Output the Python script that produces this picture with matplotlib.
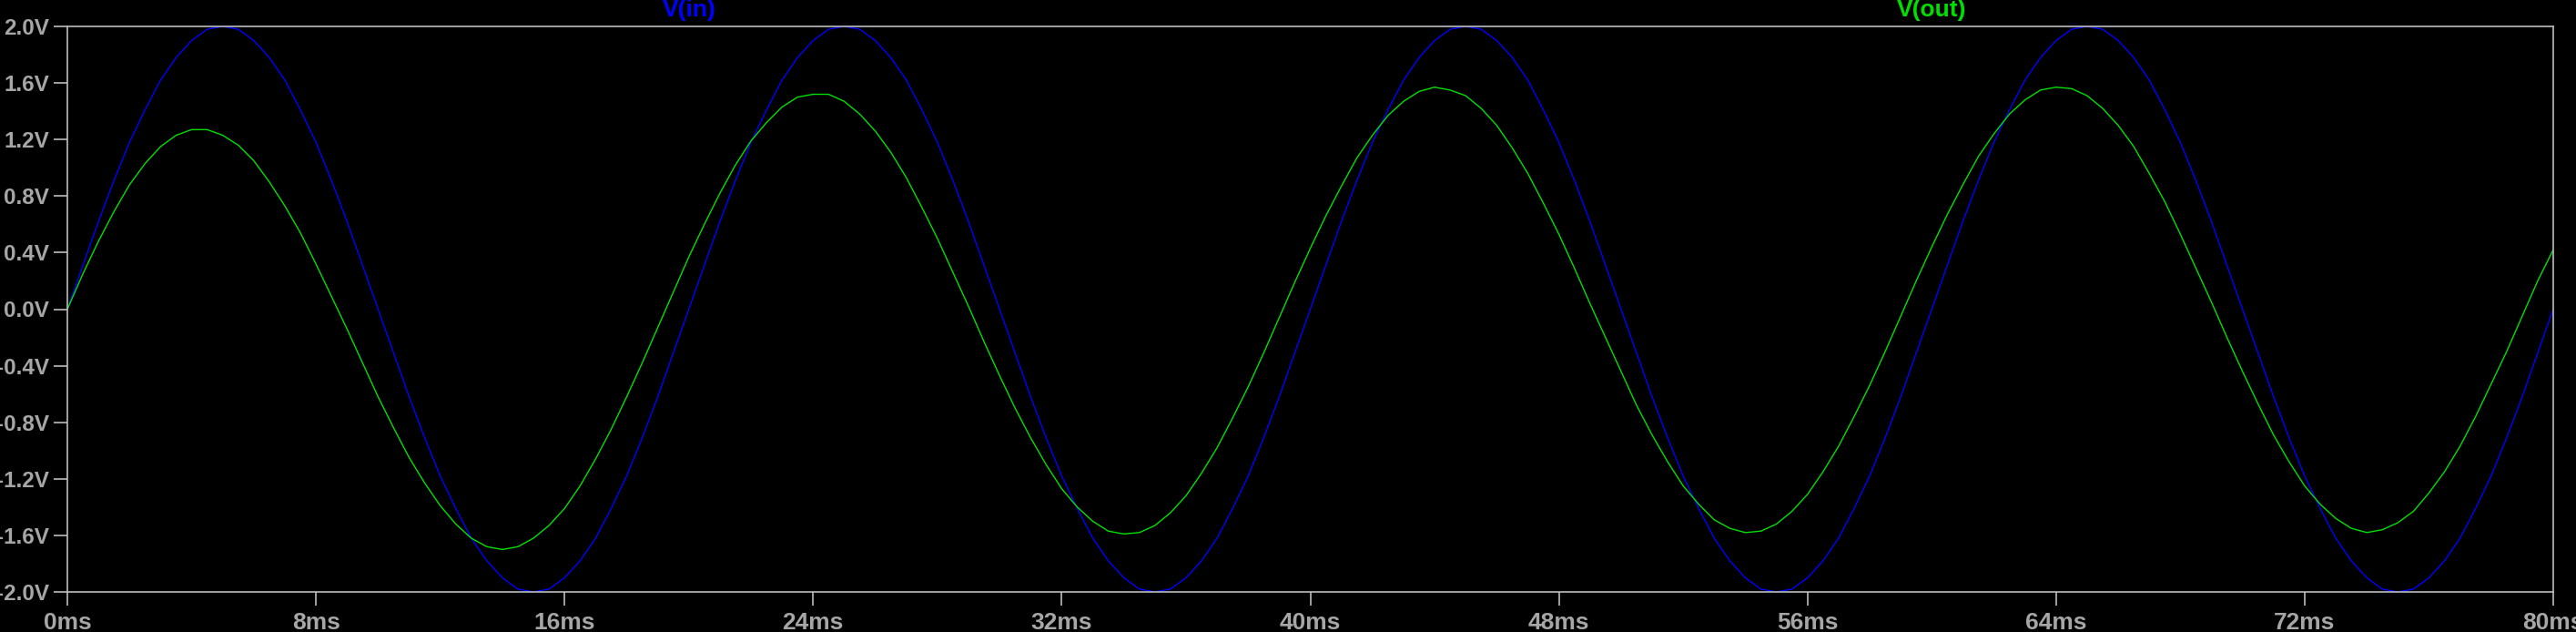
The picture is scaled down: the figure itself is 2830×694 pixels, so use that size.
import matplotlib.pyplot as plt
import numpy as np

# time axis, 0.5 ms steps from 0 to 80 ms
t_ms = np.arange(161) * 0.5

# V(in) (volts)
v_in = [
    0.00, 0.31, 0.62, 0.91, 1.18, 1.41, 1.62, 1.78, 1.90, 1.98, 2.00, 1.98, 1.90, 1.78, 1.62, 1.41, 1.18, 0.91, 0.62, 0.31,
    0.00, -0.31, -0.62, -0.91, -1.18, -1.41, -1.62, -1.78, -1.90, -1.98, -2.00, -1.98, -1.90, -1.78, -1.62, -1.41, -1.18, -0.91, -0.62, -0.31,
    0.00, 0.31, 0.62, 0.91, 1.18, 1.41, 1.62, 1.78, 1.90, 1.98, 2.00, 1.98, 1.90, 1.78, 1.62, 1.41, 1.18, 0.91, 0.62, 0.31,
    0.00, -0.31, -0.62, -0.91, -1.18, -1.41, -1.62, -1.78, -1.90, -1.98, -2.00, -1.98, -1.90, -1.78, -1.62, -1.41, -1.18, -0.91, -0.62, -0.31,
    0.00, 0.31, 0.62, 0.91, 1.18, 1.41, 1.62, 1.78, 1.90, 1.98, 2.00, 1.98, 1.90, 1.78, 1.62, 1.41, 1.18, 0.91, 0.62, 0.31,
    0.00, -0.31, -0.62, -0.91, -1.18, -1.41, -1.62, -1.78, -1.90, -1.98, -2.00, -1.98, -1.90, -1.78, -1.62, -1.41, -1.18, -0.91, -0.62, -0.31,
    0.00, 0.31, 0.62, 0.91, 1.18, 1.41, 1.62, 1.78, 1.90, 1.98, 2.00, 1.98, 1.90, 1.78, 1.62, 1.41, 1.18, 0.91, 0.62, 0.31,
    0.00, -0.31, -0.62, -0.91, -1.18, -1.41, -1.62, -1.78, -1.90, -1.98, -2.00, -1.98, -1.90, -1.78, -1.62, -1.41, -1.18, -0.91, -0.62, -0.31,
    0.00,
]

# V(out) (volts)
v_out = [
    0.00, 0.25, 0.48, 0.69, 0.88, 1.03, 1.15, 1.23, 1.27, 1.27, 1.23, 1.16, 1.05, 0.90, 0.73, 0.54, 0.32, 0.09, -0.14, -0.38,
    -0.62, -0.84, -1.05, -1.23, -1.39, -1.52, -1.62, -1.68, -1.70, -1.68, -1.62, -1.53, -1.41, -1.25, -1.06, -0.85, -0.62, -0.38, -0.13, 0.12,
    0.37, 0.60, 0.82, 1.02, 1.19, 1.32, 1.43, 1.50, 1.52, 1.52, 1.47, 1.38, 1.26, 1.11, 0.93, 0.72, 0.50, 0.26, 0.02, -0.23,
    -0.47, -0.70, -0.91, -1.10, -1.27, -1.40, -1.50, -1.57, -1.59, -1.58, -1.53, -1.44, -1.32, -1.16, -0.98, -0.77, -0.55, -0.31, -0.06, 0.19,
    0.43, 0.66, 0.87, 1.07, 1.23, 1.37, 1.47, 1.54, 1.57, 1.55, 1.51, 1.42, 1.30, 1.14, 0.96, 0.75, 0.53, 0.29, 0.04, -0.20,
    -0.44, -0.68, -0.89, -1.08, -1.25, -1.38, -1.49, -1.55, -1.58, -1.57, -1.52, -1.43, -1.31, -1.15, -0.97, -0.76, -0.54, -0.30, -0.05, 0.20,
    0.44, 0.67, 0.88, 1.08, 1.24, 1.38, 1.48, 1.55, 1.57, 1.56, 1.51, 1.42, 1.30, 1.15, 0.96, 0.76, 0.53, 0.29, 0.05, -0.20,
    -0.44, -0.67, -0.89, -1.08, -1.25, -1.38, -1.48, -1.55, -1.58, -1.56, -1.51, -1.43, -1.30, -1.15, -0.97, -0.76, -0.53, -0.30, -0.05, 0.20,
    0.42,
]

x_ticks = [0, 8, 16, 24, 32, 40, 48, 56, 64, 72, 80]
y_ticks = [-2.0, -1.6, -1.2, -0.8, -0.4, 0.0, 0.4, 0.8, 1.2, 1.6, 2.0]

trace_names = ['V(in)', 'V(out)']
trace_colors = ['#0000ff', '#00e000']

plt.rcParams['font.family'] = ['Liberation Sans', 'DejaVu Sans']
plt.rcParams['font.weight'] = 'bold'

fig = plt.figure(figsize=(28.3, 6.94), dpi=100, facecolor='black')
ax = fig.add_axes([74 / 2830, 44 / 694, 2731 / 2830, 621 / 694])
ax.set_facecolor('black')

ax.plot(t_ms, v_in, color=trace_colors[0], lw=1.0)
ax.plot(t_ms, v_out, color=trace_colors[1], lw=1.0)

ax.set_xlim(0, 80)
ax.set_ylim(-2.0, 2.0)
ax.set_xticks(x_ticks)
ax.set_xticklabels(['%dms' % x for x in x_ticks])
ax.set_yticks(y_ticks)
ax.set_yticklabels(['%.1fV' % y for y in y_ticks])

for s in ax.spines.values():
    s.set_color('#bcbcbc')
    s.set_linewidth(1.2)
ax.tick_params(direction='out', length=10.8, width=1.2, color='#bcbcbc',
               labelcolor='#a6a6a6')
ax.tick_params(axis='y', pad=3.5, labelsize=17.5)
ax.tick_params(axis='x', pad=5, labelsize=19)

# trace names above the plot at 1/4 and 3/4 of the width
for i, name in enumerate(trace_names):
    ax.annotate(name, xy=(0.25 + 0.5 * i, 1.0), xycoords='axes fraction',
                xytext=(0, 8), textcoords='offset points',
                ha='center', va='baseline', color=trace_colors[i],
                fontsize=19, fontweight='bold')

fig.savefig('out.png', dpi=100, facecolor='black')
